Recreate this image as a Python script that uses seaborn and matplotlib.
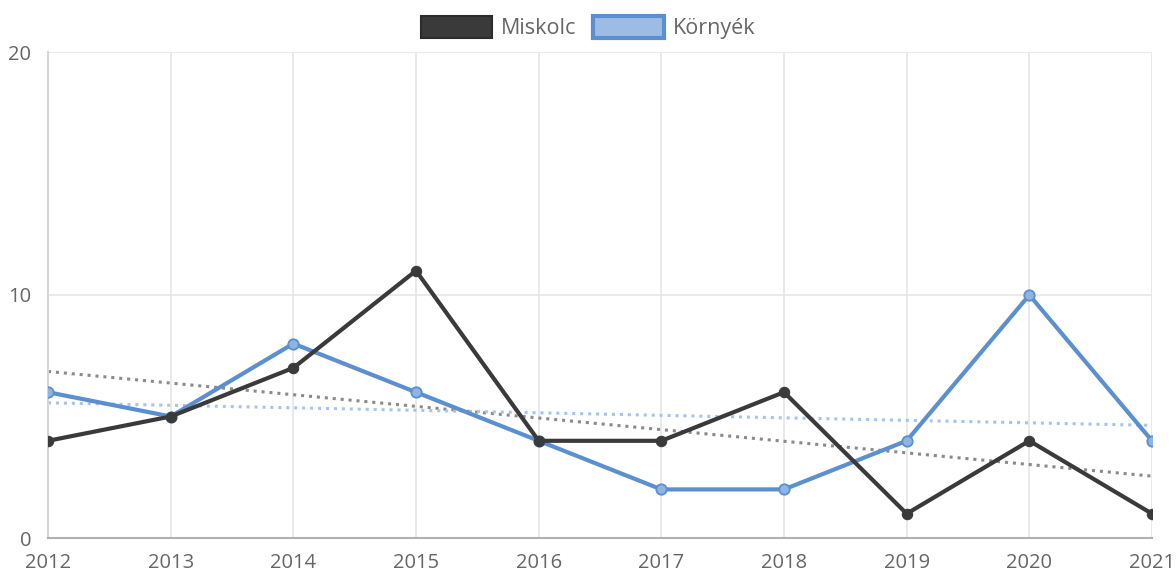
import matplotlib
matplotlib.use("Agg")
import matplotlib.pyplot as plt
import seaborn as sns
import numpy as np
import pandas as pd
from matplotlib.patches import Patch

years = [2012, 2013, 2014, 2015, 2016, 2017, 2018, 2019, 2020, 2021]
miskolc = [4, 5, 7, 11, 4, 4, 6, 1, 4, 1]
kornyek = [6, 5, 8, 6, 4, 2, 2, 4, 10, 4]
series_names = ["Miskolc", "Környék"]
y_ticks = [0, 10, 20]

sns.set_theme(style="white")
plt.rcParams['font.family'] = ['Open Sans', 'DejaVu Sans']

df = pd.DataFrame({"year": years * 2,
                   "value": miskolc + kornyek,
                   "series": [series_names[0]] * len(years) + [series_names[1]] * len(years)})
df["x"] = df["year"] - years[0]

fig = plt.figure(figsize=(11.76, 5.74), dpi=100)
ax = fig.add_axes([48/1176, 1 - 538/574, (1152-48)/1176, (538-52)/574])

dark = "#3a3a3a"
blue = "#5b8fd0"
light_blue = "#8fb3e2"

# trend lines
xs = np.arange(len(years))
for vals, col in [(miskolc, "#8a8a8a"), (kornyek, "#a8c4ea")]:
    m, b = np.polyfit(xs, vals, 1)
    tdf = pd.DataFrame({"x": [xs[0], xs[-1]], "y": [b, m * xs[-1] + b]})
    sns.lineplot(data=tdf, x="x", y="y", ax=ax, color=col, lw=2.2,
                 linestyle=(0, (1, 1.6)), zorder=2)

sns.lineplot(data=df[df.series == "Környék"], x="x", y="value", ax=ax, color=blue,
             lw=3.0, marker="o", markersize=7.5, markerfacecolor=light_blue,
             markeredgecolor=blue, markeredgewidth=1.3, zorder=3)
sns.lineplot(data=df[df.series == "Miskolc"], x="x", y="value", ax=ax, color=dark,
             lw=3.0, marker="o", markersize=7.5, markerfacecolor=dark,
             markeredgecolor=dark, zorder=4)

ax.set_xlim(0, len(years) - 1)
ax.set_ylim(0, 20)
ax.set_xticks(xs)
ax.set_xticklabels([str(y) for y in years])
ax.set_yticks(y_ticks)
ax.set_xlabel("")
ax.set_ylabel("")
ax.grid(True, color="#e6e6e6", lw=1.2)
ax.set_axisbelow(True)
for s in ["top", "right"]:
    ax.spines[s].set_visible(False)
ax.spines["left"].set_color("#d6d6d6")
ax.spines["left"].set_linewidth(1.5)
ax.spines["bottom"].set_color("#b0b0b0")
ax.spines["bottom"].set_linewidth(1.5)
ax.tick_params(axis="both", which="both", length=10, width=1.2, color="#e0e0e0",
               labelsize=14.5, labelcolor="#666666", pad=2)
ax.tick_params(axis="y", pad=2)
ax.tick_params(axis="x", pad=1)
ax.get_legend() and ax.get_legend().remove()

handles = [Patch(facecolor=dark, edgecolor="#2c2c2c", lw=1.5),
           Patch(facecolor="#9dbce4", edgecolor=blue, lw=3)]
fig.legend(handles, series_names, loc="upper center", bbox_to_anchor=(0.5, 1.0),
           ncol=2, frameon=False, handlelength=3.3, handleheight=1.15,
           columnspacing=0.8, handletextpad=0.4, prop={"size": 15.5},
           labelcolor="#666666", borderaxespad=0.35)

fig.savefig("out.png", dpi=100)
